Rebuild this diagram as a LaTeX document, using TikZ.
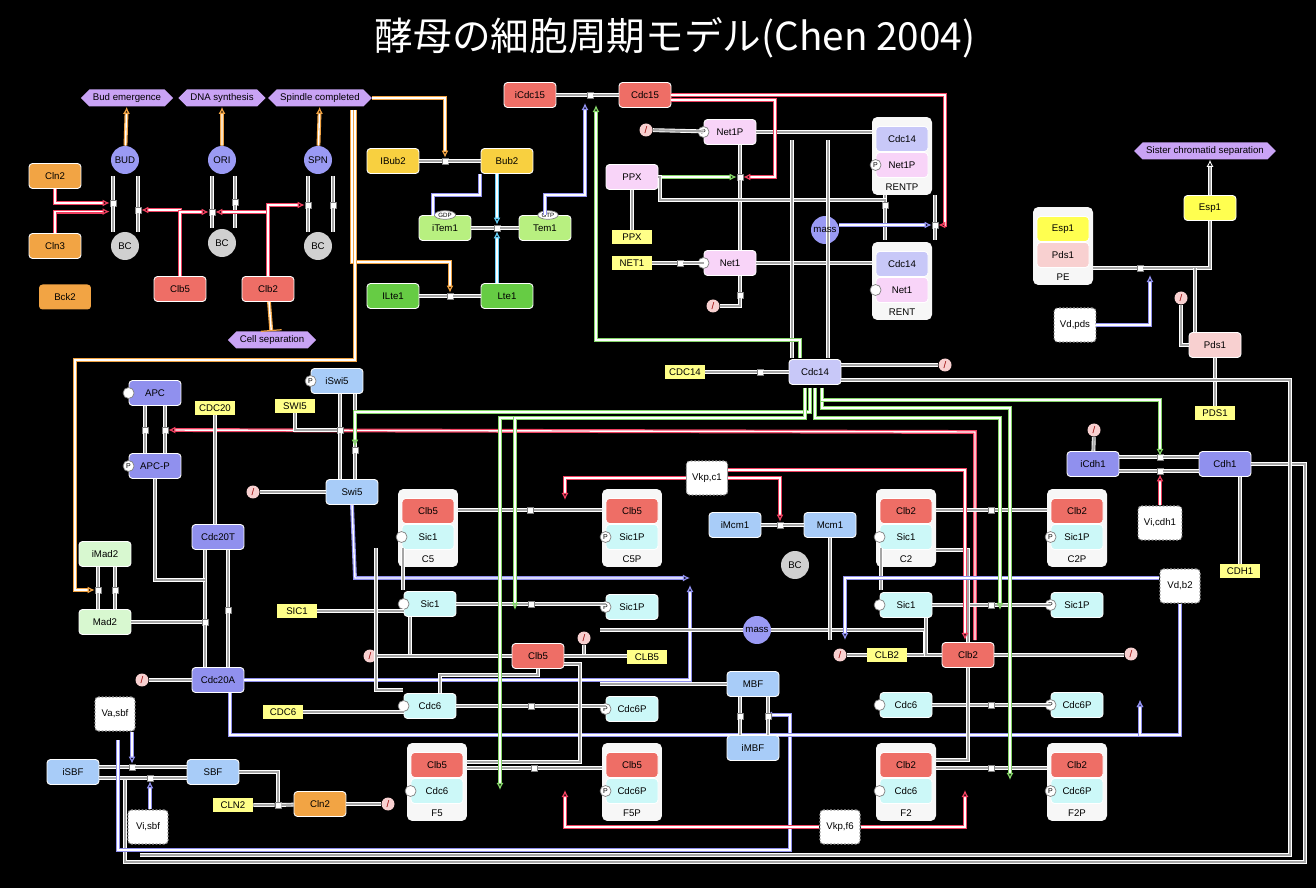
\documentclass[tikz,border=0pt]{standalone}
\usepackage{fontspec}
\setmainfont{Liberation Sans}
\newfontfamily\cjk{Noto Sans CJK JP}
\usetikzlibrary{shapes.geometric,shapes.symbols,arrows.meta,calc}
\definecolor{cOr}{HTML}{F2A444}\definecolor{cRd}{HTML}{EE6E66}\definecolor{cBu}{HTML}{9A9AF4}
\definecolor{cGy}{HTML}{D0D0D0}\definecolor{cLv}{HTML}{C9A3F5}\definecolor{cYe}{HTML}{F8D040}
\definecolor{cYl}{HTML}{FFFF88}\definecolor{cGl}{HTML}{B8F080}\definecolor{cGn}{HTML}{66CC44}
\definecolor{cPk}{HTML}{F8D4F8}\definecolor{cLp}{HTML}{C8C8F8}\definecolor{cAp}{HTML}{9090EE}
\definecolor{cLb}{HTML}{A8CCF8}\definecolor{cCy}{HTML}{CCF8F8}\definecolor{cPd}{HTML}{F8D0D0}
\definecolor{cMd}{HTML}{D8F8D0}\definecolor{cEs}{HTML}{FFFF50}\definecolor{cRl}{HTML}{F04060}
\newcommand\cpx[8]{%
 \node[cbox] (#1) at (#2,#3) {};
 \node[sp,fill=#5,minimum width=1.04cm] (#1t) at (#2,#3-17) {#4};
 \node[sp,fill=#7,minimum width=1.04cm] (#1b) at (#2,#3+9) {#6};
 \node[font=\fontsize{5.5}{6}\selectfont] at (#2,#3+31) {#8};}
\begin{document}
\begin{tikzpicture}[x=0.02cm,y=-0.02cm,
 every node/.style={font=\fontsize{5.5}{6}\selectfont},
 sp/.style={draw=white,line width=0.5pt,rounded corners=2pt,minimum width=1.04cm,minimum height=0.5cm,inner sep=1pt},
 cbox/.style={fill=white!94!gray,rounded corners=3pt,minimum width=1.2cm,minimum height=1.56cm},
 cir/.style={circle,minimum size=0.56cm,inner sep=0},
 hx/.style={signal,signal to=east and west,fill=cLv,minimum height=0.34cm,inner sep=2pt},
 lab/.style={fill=cYl,minimum width=0.8cm,minimum height=0.28cm,inner sep=1pt},
 dsh/.style={draw=gray!80,dash pattern=on 1pt off 1pt,line width=0.6pt,fill=white,rounded corners=2pt,minimum width=0.8cm,minimum height=0.68cm},
 jx/.style={draw=gray,fill=white,minimum size=0.12cm,inner sep=0},
 dg/.style={circle,fill=cPd,minimum size=0.26cm,inner sep=0,text=red!60!black},
 pm/.style={circle,draw=gray,fill=white,minimum size=0.22cm,inner sep=0,font=\fontsize{4}{4}\selectfont},
 g/.style={draw=white,double=gray!70,double distance=1.2pt,line width=0.5pt},
 r/.style={draw=cRl,double=white,double distance=0.8pt,line width=0.7pt},
 gr/.style={draw=cGn!80,double=white,double distance=0.8pt,line width=0.7pt},
 pu/.style={draw=cAp,double=white,double distance=0.8pt,line width=0.7pt},
 bl/.style={draw=cyan!60,double=white,double distance=0.8pt,line width=0.7pt},
 orl/.style={draw=cOr,double=white,double distance=0.8pt,line width=0.7pt},
 ar/.style={-{Latex[open,length=4pt,width=4pt]}}]
\fill[black] (0,0) rectangle (1316,888);
\useasboundingbox (0,0) rectangle (1316,888);
\node[text=white,font=\cjk\fontsize{22}{24}\selectfont] at (675,38) {酵母の細胞周期モデル(Chen 2004)};
% ---------- top-left
\node[sp,fill=cOr] (cln2a) at (55,176) {Cln2};
\node[sp,fill=cOr] (cln3) at (55,246) {Cln3};
\node[sp,fill=cOr,draw=none] (bck2) at (65,297) {Bck2};
\node[cir,fill=cBu] (bud) at (125,160) {BUD};
\node[cir,fill=cBu] (ori) at (222,160) {ORI};
\node[cir,fill=cBu] (spn) at (318,160) {SPN};
\node[cir,fill=cGy] (bc1) at (125,246) {BC};
\node[cir,fill=cGy] (bc2) at (222,243) {BC};
\node[cir,fill=cGy] (bc3) at (318,246) {BC};
\node[sp,fill=cRd] (clb5a) at (180,289) {Clb5};
\node[sp,fill=cRd] (clb2a) at (268,289) {Clb2};
\node[hx] (hbud) at (127,98) {Bud emergence};
\node[hx] (hdna) at (222,98) {DNA synthesis};
\node[hx] (hspn) at (320,98) {Spindle completed};
\node[hx] (hcel) at (272,340) {Cell separation};
\foreach \a/\b in {bud/hbud,ori/hdna,spn/hspn} \draw[orl,ar] (\a) -- (\b);
\draw[orl,-{Bar}] (clb2a) -- (hcel);
\node[jx] (j1) at (113,203) {}; \node[jx] (j2) at (138,210) {};
\node[jx] (j3) at (212,212) {}; \node[jx] (j4) at (235,202) {};
\node[jx] (j5) at (308,205) {}; \node[jx] (j6) at (333,205) {};
\draw[g] (113,176) -- (j1) -- (113,232); \draw[g] (138,176) -- (j2) -- (138,232);
\draw[g] (212,176) -- (j3) -- (212,228); \draw[g] (235,176) -- (j4) -- (235,228);
\draw[g] (308,176) -- (j5) -- (308,232); \draw[g] (333,176) -- (j6) -- (333,232);
\draw[r,ar] (cln2a.south) |- (j1); \draw[r,ar] (cln3.north) |- ([yshift=-3]j1.south west);
\draw[r,ar] (clb5a.north) |- (j2);
\draw[r,ar] (clb5a.north) |- (j3); \draw[r,ar] (clb2a.north) |- (j3);
\draw[r,ar] (clb2a.north) |- (j5);
% ---------- Bub2 / Tem1 / Lte1
\node[sp,fill=cYe] (ibub2) at (393,161) {IBub2};
\node[sp,fill=cYe] (bub2) at (507,161) {Bub2};
\node[sp,fill=cGl] (item1) at (445,228) {iTem1};
\node[sp,fill=cGl] (tem1) at (545,228) {Tem1};
\node[sp,fill=cGn] (ilte1) at (393,296) {ILte1};
\node[sp,fill=cGn] (lte1) at (507,296) {Lte1};
\node[jx] (jb) at (445,161) {}; \node[jx] (jt) at (497,228) {}; \node[jx] (jl) at (450,296) {};
\draw[g] (ibub2) -- (jb) -- (bub2); \draw[g] (item1) -- (jt) -- (tem1); \draw[g] (ilte1) -- (jl) -- (lte1);
\draw[bl,ar] (bub2.south -| jt) -- (jt); \draw[bl,ar] (lte1.north -| jt) -- (jt);
\draw[orl,ar] (hspn.east) -- (445,98) -- (jb);
\draw[orl,ar] (352,110) -- (352,262) -- (450,262) -- (jl);
\node[draw=gray,fill=white,ellipse,inner sep=0.5pt,font=\fontsize{3.5}{4}\selectfont] at (445,215) {GDP};
\node[draw=gray,fill=white,ellipse,inner sep=0.5pt,font=\fontsize{3.5}{4}\selectfont] at (548,215) {GTP};
% ---------- Cdc15 / RENT
\node[sp,fill=cRd] (icdc15) at (530,95) {iCdc15};
\node[sp,fill=cRd] (cdc15) at (645,95) {Cdc15};
\node[jx] (jc) at (590,95) {};
\draw[g] (icdc15) -- (jc) -- (cdc15);
\draw[pu,ar] (tem1.north) -- (545,195) -- (585,195) -- (585,103);
\draw[pu] (433,215) -- (433,195) -- (480,195) -- (480,174);
\node[sp,fill=cPk] (net1p) at (730,132) {Net1P};
\node[sp,fill=cPk] (ppx) at (632,177) {PPX};
\node[sp,fill=cPk] (net1) at (730,263) {Net1};
\node[pm] at (net1p.west) {P};
\node[pm] at (net1.west) {};
\node[cir,fill=cBu] (mass1) at (825,230) {};
\cpx{rentp}{902}{156}{Cdc14}{cLp}{Net1P}{cPk}{RENTP}
\cpx{rent}{902}{281}{Cdc14}{cLp}{Net1}{cPk}{RENT}
\node[pm] at (rentpb.west) {P}; \node[pm] at (rentb.west) {};
\node[lab] (lppx) at (632,237) {PPX};
\node[lab] (lnet1) at (632,263) {NET1};
\node[dg] (d1) at (646,130) {/}; \node[dg] (d2) at (713,306) {/}; \node[dg] (d3) at (945,365) {/};
\node[jx] (jn) at (740,177) {}; \node[jx] (jr1) at (885,205) {}; \node[jx] (jr2) at (935,225) {};
\node[jx] (jn2) at (680,263) {}; \node[jx] (jn3) at (740,295) {};
\draw[g] (net1p.south -| jn) -- (jn) -- (net1.north -| jn);
\draw[gr,ar] (ppx) -- (jn);
\draw[g] (d1) -- (net1p); \draw[g] (lnet1) -- (jn2) -- (net1); \draw[g] (net1.south -| jn3) -- (jn3) |- (d2);
\draw[g] (lppx) -- (ppx);
\draw[g] (net1p.east) -- (net1p.east -| rentp.west); \draw[g] (net1.east) -- (net1.east -| rent.west);
\draw[g] (rentp.south) ++(-17,0) -- (jr1) -- (885,240);
\draw[g] (rentp.south) ++(33,0) -- (jr2) -- (935,240);
\draw[pu,ar] (mass1.east|-jr2) -- (jr2);
\draw[r,ar] (cdc15.east) -- (945,95) -- (945,225) -- (jr2);
\draw[r,ar] ($(cdc15.east)+(0,5)$) -- (775,100) -- (775,177) -- (jn);
\draw[g] (ppx.east) -- (660,177) -- (660,200) -- (885,200) -- (jr1);
% ---------- Cdc14
\node[sp,fill=cLp] (cdc14) at (815,372) {Cdc14};
\node[lab] (lcdc14) at (685,372) {CDC14};
\node[jx] (j14) at (760,372) {};
\draw[g] (lcdc14) -- (j14) -- (cdc14);
\draw[g] ($(cdc14.east)+(0,-7)$) -- (d3);
\foreach \x in {792,828} \draw[g] (\x,358) -- (\x,140);
\draw[gr,ar] (800,358) -- (800,340) -- (596,340) -- (596,105);
% ---------- right top
\node[sp,fill=cEs] (esp1) at (1210,208) {Esp1};
\cpx{pe}{1063}{246}{Esp1}{cEs}{Pds1}{cPd}{PE}
\node[hx] (hsis) at (1205,151) {Sister chromatid separation};
\node[dsh] (vdpds) at (1075,325) {Vd,pds};
\node[sp,fill=cPd] (pds1) at (1215,345) {Pds1};
\node[lab] (lpds1) at (1215,413) {PDS1};
\node[dg] (d4) at (1181,298) {/};
\node[jx] (je) at (1140,268) {};
\draw[g] (pe.east |- je) -- (je) -- (esp1.south|-je) -- (esp1.south);
\draw[g,ar] (esp1.north) -- (esp1.north|-hsis.south);
\draw[g] (pds1.north) ++(-20,0) -- (1195,268);
\draw[pu,ar] (vdpds.east) -- (1150,325) -- (1150,275);
\draw[g] (d4) -- (d4|-pds1) -- (pds1);
\draw[g] (pds1) -- (lpds1);
\node[sp,fill=cAp] (icdh1) at (1093,464) {iCdh1};
\node[sp,fill=cAp] (cdh1) at (1225,464) {Cdh1};
\node[dsh] (vicdh1) at (1160,523) {Vi,cdh1};
\node[lab] (lcdh1) at (1240,571) {CDH1};
\node[dg] (d5) at (1094,430) {/};
\node[jx] (jh1) at (1160,457) {}; \node[jx] (jh2) at (1160,471) {};
\draw[g] (icdh1.east|-jh1) -- (jh1) -- (cdh1.west|-jh1); \draw[g] (icdh1.east|-jh2) -- (jh2) -- (cdh1.west|-jh2);
\draw[g] (d5) -- (icdh1);
\draw[r,ar] (vicdh1) -- (jh2);
\draw[g] (cdh1.south -| lcdh1) -- (lcdh1);
\draw[g] (cdh1.east) -- (1305,464) -- (1305,862) -- (125,862) -- (125,780);
\draw[g] (cdc14.east) ++(0,8) -- (1290,380) -- (1290,855) -- (140,855);
% ---------- left column
\node[sp,fill=cAp] (apc) at (155,393) {APC};
\node[sp,fill=cAp] (apcp) at (155,466) {APC-P};
\node[pm] at (apc.west) {}; \node[pm] at (apcp.west) {P};
\node[lab] (lcdc20) at (215,408) {CDC20};
\node[lab] (lswi5) at (295,406) {SWI5};
\node[sp,fill=cLb] (iswi5) at (337,381) {iSwi5};
\node[pm] at (iswi5.west) {P};
\node[sp,fill=cLb] (swi5) at (352,492) {Swi5};
\node[sp,fill=cAp] (cdc20t) at (218,537) {Cdc20T};
\node[sp,fill=cMd] (imad2) at (105,554) {iMad2};
\node[sp,fill=cMd] (mad2) at (105,622) {Mad2};
\node[lab] (lsic1) at (297,611) {SIC1};
\node[sp,fill=cAp] (cdc20a) at (218,680) {Cdc20A};
\node[lab] (lcdc6) at (283,712) {CDC6};
\node[dsh] (vasbf) at (115,714) {Va,sbf};
\node[sp,fill=cLb] (isbf) at (73,772) {iSBF};
\node[sp,fill=cLb] (sbf) at (213,772) {SBF};
\node[lab] (lcln2) at (233,805) {CLN2};
\node[sp,fill=cOr] (cln2b) at (320,804) {Cln2};
\node[dsh] (visbf) at (148,827) {Vi,sbf};
\node[dg] (d6) at (253,492) {/}; \node[dg] (d7) at (142,680) {/}; \node[dg] (d8) at (388,804) {/};
\node[jx] (ja1) at (145,430) {}; \node[jx] (ja2) at (165,430) {};
\draw[g] (apc.south-|ja1) -- (ja1) -- (apcp.north-|ja1); \draw[g] (apc.south-|ja2) -- (ja2) -- (apcp.north-|ja2);
\draw[r,ar] (975,640) -- (975,432) -- (ja2);
\draw[g] (lcdc20) -- (lcdc20|-cdc20t.north);
\node[jx] (jm1) at (98,590) {}; \node[jx] (jm2) at (115,590) {};
\draw[g] (imad2.south-|jm1) -- (jm1) -- (mad2.north-|jm1); \draw[g] (imad2.south-|jm2) -- (jm2) -- (mad2.north-|jm2);
\draw[orl,ar] (355,110) -- (355,360) -- (75,360) -- (75,590) -- (jm1);
\node[jx] (jcd1) at (205,622) {}; \node[jx] (jcd2) at (228,610) {};
\draw[g] (cdc20t.south-|jcd1) -- (jcd1) -- (cdc20a.north-|jcd1); \draw[g] (cdc20t.south-|jcd2) -- (jcd2) -- (cdc20a.north-|jcd2);
\draw[g] (mad2.east) -- (jcd1);
\draw[g] (apcp.south) -- (155,580) -- (205,580);
\draw[g] (d7) -- (cdc20a);
\node[jx] (js1) at (340,430) {}; \node[jx] (js2) at (355,450) {};
\draw[g] (iswi5.south-|js1) -- (js1) -- (swi5.north-|js1); \draw[g] (iswi5.south-|js2) -- (js2) -- (swi5.north-|js2);
\draw[g] (lswi5.south) |- (js1); \draw[g] (d6) -- (swi5);
\draw[gr,ar] (810,388) -- (810,412) -- (355,412) -- (js2);
\node[jx] (jsb1) at (132,767) {}; \node[jx] (jsb2) at (150,778) {};
\draw[g] (isbf.east|-jsb1) -- (jsb1) -- (sbf.west|-jsb1); \draw[g] (isbf.east|-jsb2) -- (jsb2) -- (sbf.west|-jsb2);
\draw[pu,ar] (jsb1|-vasbf.south) -- (jsb1); \draw[pu,ar] (visbf.north-|jsb2) -- (jsb2);
\node[jx] (jcl) at (278,805) {};
\draw[g] (lcln2) -- (jcl) -- (cln2b); \draw[g] (sbf.east) -- (278,772) -- (jcl);
\draw[g] (cln2b) -- (d8);
\draw[pu,ar] (118,740) -- (118,850) -- (790,850) -- (790,715) -- (765,715);
\draw[pu,ar] (cdc20a.east) -- (690,680) -- (690,585);
\draw[pu,ar] (cdc20a.south) ++(12,0) -- (230,735) -- (1140,735) -- (1140,700);
\draw[pu,ar] (swi5.south) -- (355,578) -- (690,578);
% ---------- middle complexes
\cpx{c5}{428}{528}{Clb5}{cRd}{Sic1}{cCy}{C5}
\cpx{c5p}{632}{528}{Clb5}{cRd}{Sic1P}{cCy}{C5P}
\cpx{f5}{437}{782}{Clb5}{cRd}{Cdc6}{cCy}{F5}
\cpx{f5p}{632}{782}{Clb5}{cRd}{Cdc6P}{cCy}{F5P}
\cpx{c2}{906}{528}{Clb2}{cRd}{Sic1}{cCy}{C2}
\cpx{c2p}{1077}{528}{Clb2}{cRd}{Sic1P}{cCy}{C2P}
\cpx{f2}{906}{782}{Clb2}{cRd}{Cdc6}{cCy}{F2}
\cpx{f2p}{1077}{782}{Clb2}{cRd}{Cdc6P}{cCy}{F2P}
\foreach \n in {c5b,f5b,c2b,f2b} \node[pm] at (\n.west) {};
\foreach \n in {c5pb,f5pb,c2pb,f2pb} \node[pm] at (\n.west) {P};
\node[sp,fill=cCy] (sic1a) at (430,604) {Sic1};
\node[sp,fill=cCy] (sic1pa) at (632,607) {Sic1P};
\node[sp,fill=cCy] (cdc6a) at (430,706) {Cdc6};
\node[sp,fill=cCy] (cdc6pa) at (632,709) {Cdc6P};
\node[sp,fill=cCy] (sic1b) at (906,605) {Sic1};
\node[sp,fill=cCy] (sic1pb) at (1077,605) {Sic1P};
\node[sp,fill=cCy] (cdc6b) at (906,705) {Cdc6};
\node[sp,fill=cCy] (cdc6pb) at (1077,705) {Cdc6P};
\foreach \n in {sic1a,cdc6a,sic1b,cdc6b} \node[pm] at (\n.west) {};
\foreach \n in {sic1pa,cdc6pa,sic1pb,cdc6pb} \node[pm] at (\n.west) {P};
\node[sp,fill=cRd] (clb5b) at (538,656) {Clb5};
\node[lab] (lclb5) at (647,657) {CLB5};
\node[sp,fill=cRd] (clb2b) at (968,655) {Clb2};
\node[lab] (lclb2) at (887,655) {CLB2};
\node[dsh] (vkpc1) at (707,478) {Vkp,c1};
\node[sp,fill=cLb] (imcm1) at (735,525) {iMcm1};
\node[sp,fill=cLb] (mcm1) at (830,525) {Mcm1};
\node[cir,fill=cGy] (bc4) at (795,565) {BC};
\node[cir,fill=cBu] (mass2) at (757,630) {};
\node[sp,fill=cLb] (mbf) at (753,684) {MBF};
\node[sp,fill=cLb] (imbf) at (753,748) {iMBF};
\node[dsh] (vdb2) at (1180,586) {Vd,b2};
\node[dsh] (vkpf6) at (840,827) {Vkp,f6};
\node[dg] (d9) at (370,656) {/}; \node[dg] (d10) at (584,638) {/};
\node[dg] (d11) at (840,655) {/}; \node[dg] (d12) at (1131,654) {/};
% horizontal phosphorylation reactions
\foreach \a/\b/\y in {c5/c5p/510,sic1a/sic1pa/604,cdc6a/cdc6pa/706,f5/f5p/768,c2/c2p/510,sic1b/sic1pb/605,cdc6b/cdc6pb/705,f2/f2p/768}
 {\coordinate (hy) at (0,\y);
  \draw[g] (\a.east|-hy) -- (\b.west|-hy);
  \node[jx] at ($(\a.east|-hy)!0.5!(\b.west|-hy)$) {};}
\draw[g] (lsic1.east) -- (lsic1.east -| sic1a.west); \draw[g] (lcdc6.east) -- (lcdc6.east -| cdc6a.west);
\draw[g] (403,548) -- (403,590); \draw[g] (376,548) -- (376,690) -- (403,690);
\draw[g] (410,617) |- (clb5b.west);
\draw[g] (d9) -- (d9 -| clb5b.west); \draw[g] (clb5b.east) -| (d10);
\draw[g] (clb5b.east) -- (clb5b.east -| lclb5.west);
\draw[g] (440,693) -- (440,675) -- (538,675) -- (clb5b.south);
\draw[g] ($(f5.east)+(0,-20)$) -- (580,762) -- (580,664) -- (564,664);
\draw[g] (mass2) -- (600,630); \draw[g] (mass2) -- (925,630) |- (clb2b.west);
\draw[g] (lclb2) -- (clb2b); \draw[g] (clb2b) -- (clb2b -| d12.west); \draw[g] (d11) -- (lclb2);
\draw[g] (881,548) -- (881,590); \draw[g] (926,618) |- (clb2b.west);
\draw[g] (clb2b.south) |- ($(f2.east)+(0,-22)$);
\draw[g] (clb2b.north) |- ($(c2.east)+(0,22)$);
\node[jx] (jmc) at (780,525) {};
\draw[g] (imcm1) -- (jmc) -- (mcm1);
\draw[r,ar] (vkpc1.east) -- (780,478) -- (jmc);
\draw[r,ar] (vkpc1.west) -- (565,478) -- (565,500);
\draw[r,ar] ($(vkpc1.east)+(0,-8)$) -- (965,470) -- (965,640);
\draw[g] (mcm1.south) -- (830,640);
\node[jx] (jmb1) at (740,716) {}; \node[jx] (jmb2) at (768,716) {};
\draw[g] (mbf.south-|jmb1) -- (jmb1) -- (imbf.north-|jmb1); \draw[g] (mbf.south-|jmb2) -- (jmb2) -- (imbf.north-|jmb2);
\draw[g] (mbf.west) -- (600,684);
\draw[r,ar] (vkpf6.west) -- (565,827) -- (565,790);
\draw[r,ar] (vkpf6.east) -- (965,827) -- (965,790);
\draw[pu,ar] (vdb2.west) ++(0,-8) -- (845,578) -- (845,640);
\draw[pu,ar] (vdb2.south) |- (1140,735) -- (1140,700);
% Cdc14 green lines
\draw[gr,ar] (805,388) -- (805,418) -- (500,418) -- (500,790);
\draw[gr,ar] (805,388) -- (805,418) -- (515,418) -- (515,610);
\draw[gr,ar] (822,388) -- (822,408) -- (1010,408) -- (1010,780);
\draw[gr,ar] (822,388) -- (822,400) -- (1160,400) -- (1160,456);
\draw[gr,ar] (815,388) -- (815,418) -- (1000,418) -- (1000,610);
\node at (mass1) {mass}; \node at (mass2) {mass};
\end{tikzpicture}
\end{document}
